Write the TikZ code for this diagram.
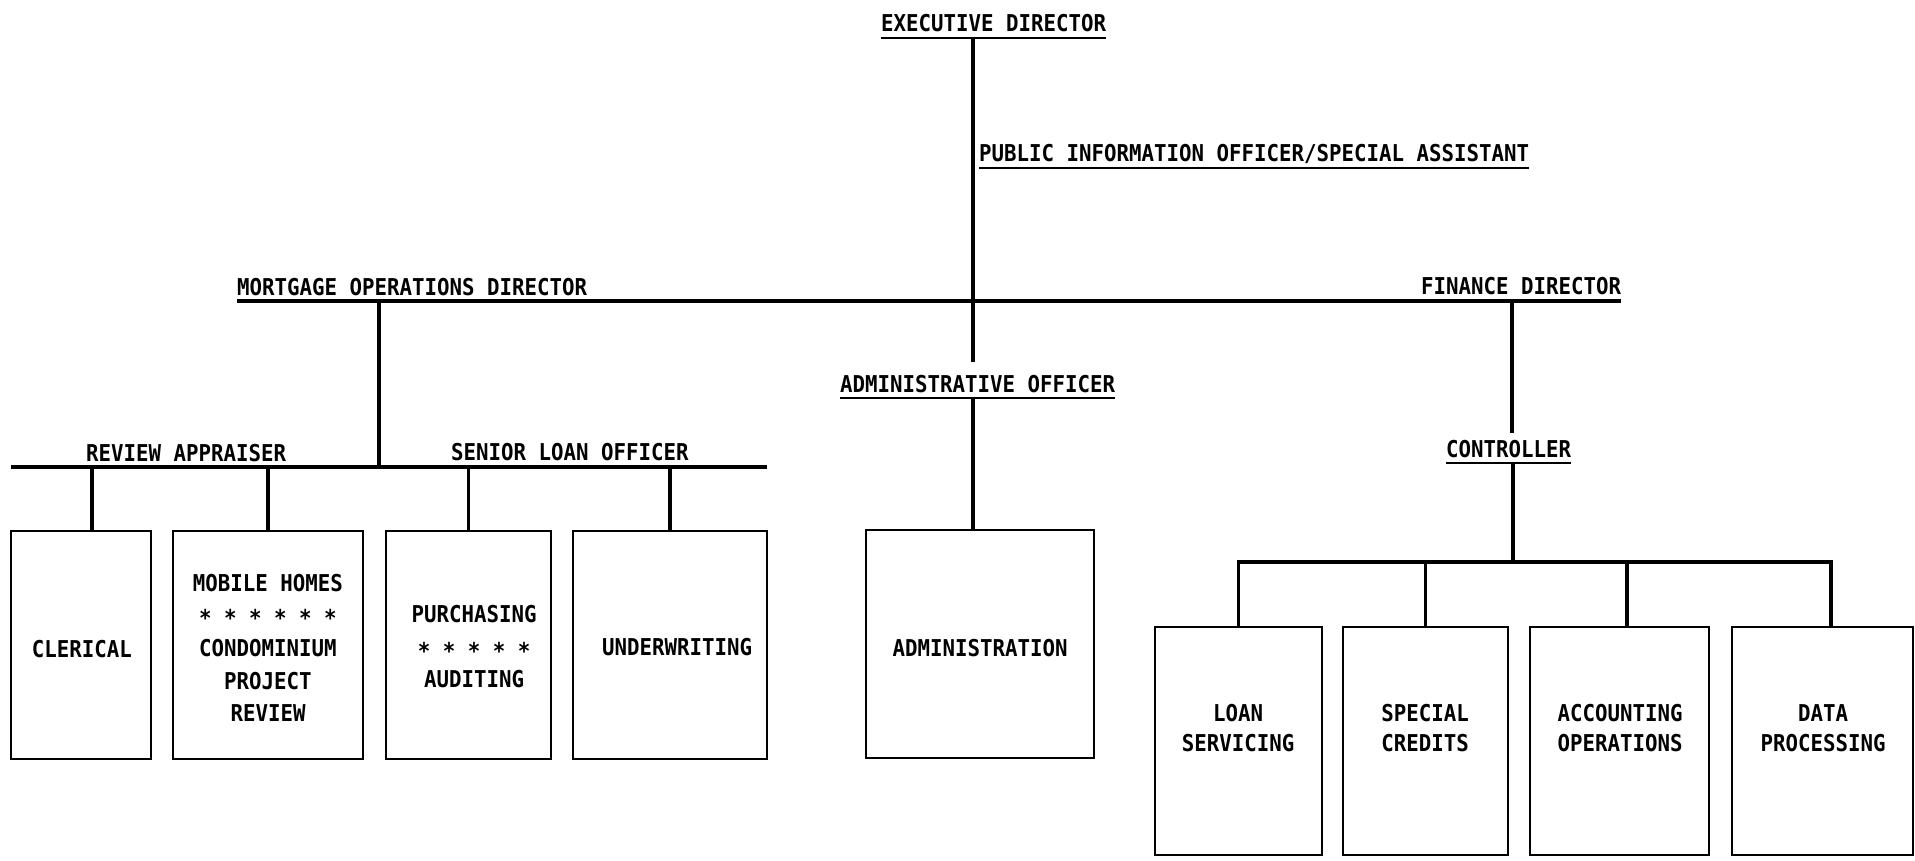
\documentclass[tikz,border=0pt]{standalone}
\usepackage{fontspec}
\newfontfamily\orgfont[FakeStretch=0.895]{DejaVu Sans Mono}
\tikzset{
  conn/.style={line width=1.6pt},
  uline/.style={line width=1.4pt},
  ttl/.style={font=\orgfont\bfseries\fontsize{11.6pt}{14pt}\selectfont, inner sep=0pt, outer sep=0pt, anchor=base west, text depth=3pt},
  unit/.style={draw, line width=1.2pt, inner sep=0pt, outer sep=0pt, minimum height=114pt},
  utext/.style={font=\orgfont\bfseries\fontsize{11.6pt}{16.25pt}\selectfont, align=center, inner sep=0pt},
  utextb/.style={font=\orgfont\bfseries\fontsize{11.6pt}{15.25pt}\selectfont, align=center, inner sep=0pt}
}
\begin{document}
\begin{tikzpicture}[x=0.5pt,y=-0.5pt]
\useasboundingbox[fill=white] (0,0) rectangle (1915,861);
% titles
\node[ttl] (exec) at (881,32) {EXECUTIVE DIRECTOR};
\node[ttl] (pio) at (979,162) {PUBLIC INFORMATION OFFICER/SPECIAL ASSISTANT};
\node[ttl] (mod) at (237,295) {MORTGAGE OPERATIONS DIRECTOR};
\node[ttl] (fin) at (1421,294) {FINANCE DIRECTOR};
\node[ttl] (ado) at (840,392) {ADMINISTRATIVE OFFICER};
\node[ttl] (ctl) at (1446,457) {CONTROLLER};
\node[ttl] (rap) at (86,461) {REVIEW APPRAISER};
\node[ttl] (slo) at (451,460) {SENIOR LOAN OFFICER};
% boxes
\node[unit, minimum width=70pt] (cler) at (81,645) {};
\node[unit, minimum width=95pt] (mob) at (268,645) {};
\node[unit, minimum width=82.5pt] (pur) at (468.5,645) {};
\node[unit, minimum width=97pt] (und) at (670,645) {};
\node[unit, minimum width=114pt] (adm) at (980,644) {};
\node[unit, minimum width=83.5pt] (loan) at (1238.5,741) {};
\node[unit, minimum width=82.5pt] (spc) at (1425.5,741) {};
\node[unit, minimum width=89.5pt] (acc) at (1619.5,741) {};
\node[unit, minimum width=90.5pt] (dat) at (1822.5,741) {};
% box texts
\node[utext] (clert) at (82,649) {CLERICAL};
\node[utext] (mobt) at (268,648) {MOBILE HOMES\\\raisebox{-1pt}{* * * * * *}\\CONDOMINIUM\\PROJECT\\REVIEW};
\node[utext] (purt) at (474,647) {PURCHASING\\\raisebox{-2pt}{* * * * *}\\AUDITING};
\node[utext] (undt) at (677,647) {UNDERWRITING};
\node[utext] (admt) at (980,648) {ADMINISTRATION};
\node[utextb] (loant) at (1238,728) {LOAN\\SERVICING};
\node[utextb] (spct) at (1425,728) {SPECIAL\\CREDITS};
\node[utextb] (acct) at (1620,728) {ACCOUNTING\\OPERATIONS};
\node[utextb] (datt) at (1823,728) {DATA\\PROCESSING};
% underlines
\foreach \n in {exec,pio,ado,ctl}
  \draw[uline] (\n.south west) -- (\n.south east);
% trunk
\coordinate (tend) at (973,362);
\draw[conn] (tend |- exec.south) -- (tend);
% main bar
\draw[conn] (mod.south west) -- (mod.south west -| fin.south east);
% mortgage branch
\coordinate (mdrop) at (379,467);
\draw[conn] (mdrop |- mod.south) -- (mdrop);
\draw[conn] (cler.north west |- mdrop) -- (und.north east |- mdrop);
\coordinate (dc) at (92,467);
\draw[conn] (dc) -- (dc |- cler.north);
\draw[conn] (mob.north |- mdrop) -- (mob.north);
\draw[conn] (pur.north |- mdrop) -- (pur.north);
\draw[conn] (und.north |- mdrop) -- (und.north);
% administration
\draw[conn] (tend |- ado.south) -- (tend |- adm.north);
% finance branch
\coordinate (fend) at (1512,433);
\draw[conn] (fend |- fin.south) -- (fend);
\coordinate (cb) at (1513,562);
\draw[conn] (cb |- ctl.south) -- (cb);
\coordinate (dd) at (1831,627);
\coordinate (da) at (1627,627);
\draw[conn] (loan.north) |- (cb) -| (dd |- dat.north);
\draw[conn] (spc.north |- cb) -- (spc.north);
\draw[conn] (da |- cb) -- (da |- acc.north);
\end{tikzpicture}
\end{document}
